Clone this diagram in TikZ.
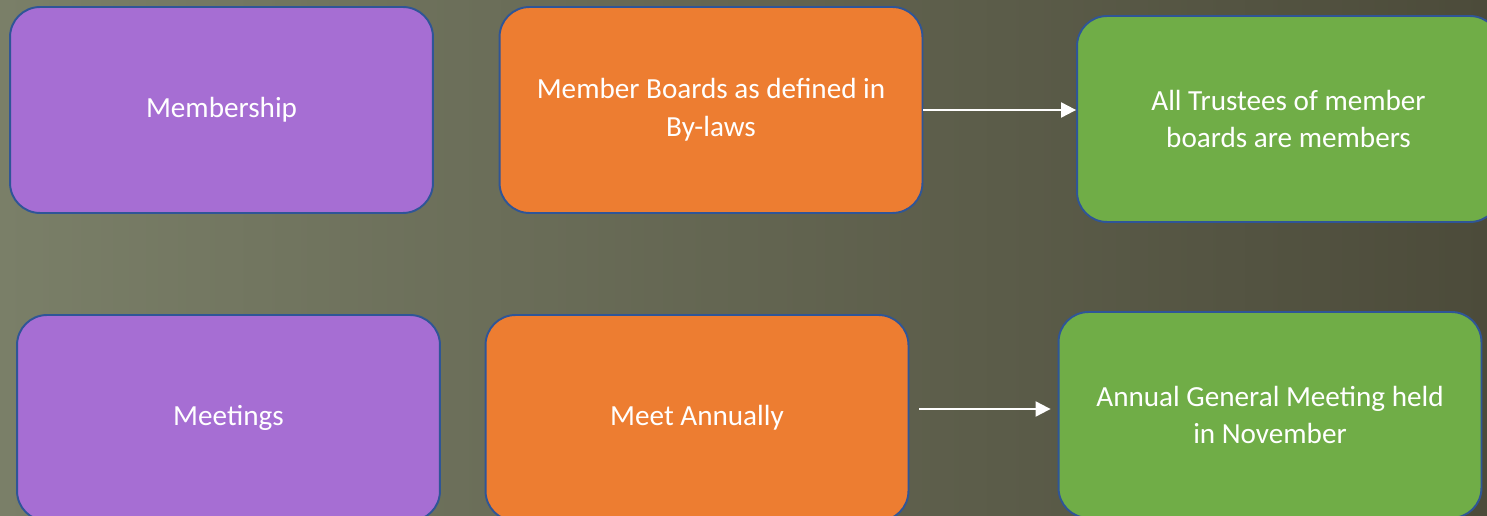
\documentclass[tikz,border=0pt]{standalone}
\usepackage{fontspec}
\setmainfont{Carlito}
\usetikzlibrary{arrows.meta, positioning}

\definecolor{bgleft}{RGB}{122,127,104}
\definecolor{bgright}{RGB}{76,75,58}
\definecolor{boxline}{RGB}{47,85,151}
\definecolor{purplebox}{RGB}{166,110,211}
\definecolor{orangebox}{RGB}{237,125,49}
\definecolor{greenbox}{RGB}{112,173,71}

\begin{document}
\begin{tikzpicture}[x = 0.02cm, y = -0.02cm, % one unit = one pixel, y down
                > = {Triangle[length=0.3cm, width=0.3cm]}, % arrow head style
                semithick % line style
            ]

            \tikzset{box/.style = {rectangle, rounded corners = 0.6cm,
            draw = boxline, line width = 1.1pt, minimum width = 8.46cm,
            minimum height = 4.12cm, text = white, align = center,
            font = \fontsize{16.6}{21.6}\selectfont},
            link/.style = {->, white, line width = 1.2pt}}

            % background
            \useasboundingbox (0,0) rectangle (1487,516);
            \shade[left color = bgleft, right color = bgright]
            (0,0) rectangle (1487,516);

            \node (mem) [box, fill = purplebox] at (221.5,110) {Membership};
            \node (brd) [box, fill = orangebox] at (711,110) {Member Boards as
            defined in\\By-laws}; \node (trs) [box, fill = greenbox] at
            (1288.5,119) {All Trustees of member\\boards are members};

            \node (mtg) [box, fill = purplebox] at (228.5,418) {Meetings};
            \node (ann) [box, fill = orangebox] at (697,418) {Meet Annually};
            \node (agm) [box, fill = greenbox] at (1270,415) {Annual General
            Meeting held\\in November};

            \draw[link] (brd.east) -- (brd.east -| trs.west);
            \draw[link] ([yshift=0.18cm, xshift=0.2cm]ann.east) --
            ([yshift=0.18cm, xshift=-0.14cm]ann.east -| agm.west);
\end{tikzpicture}
\end{document}
